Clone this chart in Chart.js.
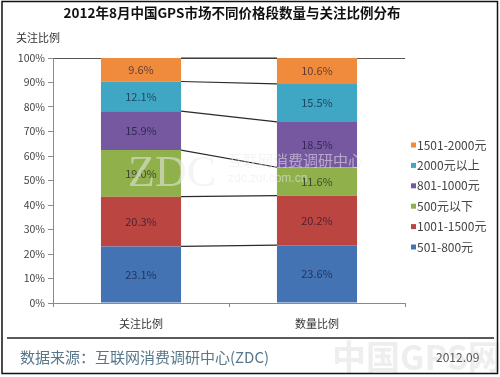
<!DOCTYPE html>
<html>
<head>
<meta charset="utf-8">
<script src="https://cdn.jsdelivr.net/npm/chart.js@4/dist/chart.umd.min.js"></script>
<style>
  html, body { margin: 0; padding: 0; background: #fff; }
  #wrap { width: 500px; height: 377px; position: relative; }
</style>
</head>
<body>
<div id="wrap"><canvas id="gpsChart"></canvas></div>
<script>
const categories = ['关注比例', '数量比例'];
const seriesNames = ['501-800元', '1001-1500元', '500元以下', '801-1000元', '2000元以上', '1501-2000元'];
const seriesColors = ['#4473b4', '#bb4541', '#8fb04a', '#7658a0', '#3fa6c4', '#f08a3c'];
const share501to800 = [23.1, 23.6];
const share1001to1500 = [20.3, 20.2];
const shareBelow500 = [19.0, 11.6];
const share801to1000 = [15.9, 18.5];
const shareAbove2000 = [12.1, 15.5];
const share1501to2000 = [9.6, 10.6];
const yTicks = [0, 10, 20, 30, 40, 50, 60, 70, 80, 90, 100];

const seriesValues = [share501to800, share1001to1500, shareBelow500, share801to1000, shareAbove2000, share1501to2000];
const FONT = '"Noto Sans CJK SC", "Noto Sans", sans-serif';

const extras = {
  id: 'extras',
  beforeDraw(chart) {
    const { ctx } = chart;
    ctx.save();
    ctx.fillStyle = '#fff';
    ctx.fillRect(0, 0, chart.width, chart.height);
    ctx.restore();
  },
  afterDatasetsDraw(chart) {
    const { ctx } = chart;
    ctx.save();
    // connector lines between the two bars
    ctx.strokeStyle = '#2a2a2a';
    ctx.lineWidth = 1.2;
    chart.data.datasets.forEach((ds, i) => {
      const bars = chart.getDatasetMeta(i).data;
      const a = bars[0], b = bars[1];
      ctx.beginPath();
      ctx.moveTo(a.x + a.width / 2, a.y);
      ctx.lineTo(b.x - b.width / 2, b.y);
      ctx.stroke();
    });
    // value labels
    ctx.font = '11px ' + FONT;
    ctx.textAlign = 'center';
    ctx.textBaseline = 'middle';
    ctx.fillStyle = 'rgba(10,10,40,0.62)';
    chart.data.datasets.forEach((ds, i) => {
      chart.getDatasetMeta(i).data.forEach((bar, j) => {
        ctx.fillText(ds.data[j].toFixed(1) + '%', bar.x, (bar.y + bar.base) / 2);
      });
    });
    // faint ZDC watermark
    ctx.fillStyle = 'rgba(235,235,235,0.55)';
    ctx.font = '44px "Liberation Serif", serif';
    ctx.textAlign = 'left';
    ctx.textBaseline = 'alphabetic';
    ctx.fillText('ZDC', 128, 186);
    ctx.font = '15px ' + FONT;
    ctx.fillText('互联网消费调研中心', 228, 166);
    ctx.font = '12px "Liberation Sans", sans-serif';
    ctx.fillText('zdc.zol.com.cn', 228, 182);
    ctx.restore();
  },
  afterDraw(chart) {
    const { ctx } = chart;
    ctx.save();
    // title
    ctx.fillStyle = '#111';
    ctx.font = 'bold 13.5px ' + FONT;
    ctx.textAlign = 'center';
    ctx.textBaseline = 'middle';
    ctx.fillText('2012年8月中国GPS市场不同价格段数量与关注比例分布', 232, 13);
    // axis caption
    ctx.font = '11px ' + FONT;
    ctx.fillStyle = '#333';
    ctx.textAlign = 'left';
    ctx.fillText('关注比例', 16, 38);
    // legend, reversed order
    ctx.font = '12px ' + FONT;
    ctx.textBaseline = 'middle';
    const n = chart.data.datasets.length;
    for (let k = 0; k < n; k++) {
      const ds = chart.data.datasets[n - 1 - k];
      const y = 145 + k * 20.4;
      ctx.fillStyle = ds.backgroundColor;
      ctx.fillRect(411, y - 2.5, 5, 5);
      ctx.fillStyle = '#444';
      ctx.fillText(ds.label, 417, y);
    }
    // footer watermark and text
    ctx.fillStyle = '#eeeeee';
    ctx.font = 'bold 34px ' + FONT;
    ctx.fillText('中国GPS网', 332, 357);
    ctx.strokeStyle = '#222';
    ctx.lineWidth = 1.5;
    ctx.beginPath();
    ctx.moveTo(7, 338);
    ctx.lineTo(494, 338);
    ctx.stroke();
    ctx.fillStyle = '#56778a';
    ctx.font = '15px ' + FONT;
    ctx.fillText('数据来源：互联网消费调研中心(ZDC)', 20, 357);
    ctx.fillStyle = '#555';
    ctx.font = '12px ' + FONT;
    ctx.fillText('2012.09', 436, 357);
    // outer frame
    ctx.strokeStyle = '#111';
    ctx.lineWidth = 1.5;
    ctx.strokeRect(2, 1.5, 495.5, 372);
    ctx.restore();
  }
};

new Chart(document.getElementById('gpsChart'), {
  type: 'bar',
  data: {
    labels: categories,
    datasets: seriesNames.map((name, i) => ({
      label: name,
      data: seriesValues[i],
      backgroundColor: seriesColors[i],
      borderWidth: 0,
      barPercentage: 0.455,
      categoryPercentage: 1
    }))
  },
  options: {
    responsive: true,
    maintainAspectRatio: false,
    animation: false,
    layout: { padding: { top: 58, right: 95, bottom: 0, left: 0 } },
    plugins: {
      legend: { display: false },
      tooltip: { enabled: false }
    },
    scales: {
      x: {
        stacked: true,
        afterFit(scale) { scale.height = 74; },
        border: { color: '#8a8a8a', width: 1 },
        grid: {
          offset: true,
          drawOnChartArea: true,
          color: (c) => c.index === 2 ? '#8a8a8a' : 'rgba(0,0,0,0)',
          tickColor: '#8a8a8a',
          tickLength: 4
        },
        ticks: { color: '#333', font: { family: FONT, size: 11 }, padding: 10 }
      },
      y: {
        stacked: true,
        min: 0,
        max: 100,
        afterFit(scale) { scale.width = 53; },
        afterBuildTicks(scale) { scale.ticks = yTicks.map(v => ({ value: v })); },
        border: { color: '#8a8a8a', width: 1 },
        grid: {
          color: (c) => c.tick && c.tick.value === 100 ? '#555' : 'rgba(0,0,0,0)',
          tickColor: '#8a8a8a',
          tickLength: 5
        },
        ticks: {
          color: '#444',
          font: { family: FONT, size: 10.5 },
          padding: 3,
          callback: (v) => v + '%'
        }
      }
    }
  },
  plugins: [extras]
});
</script>
</body>
</html>
